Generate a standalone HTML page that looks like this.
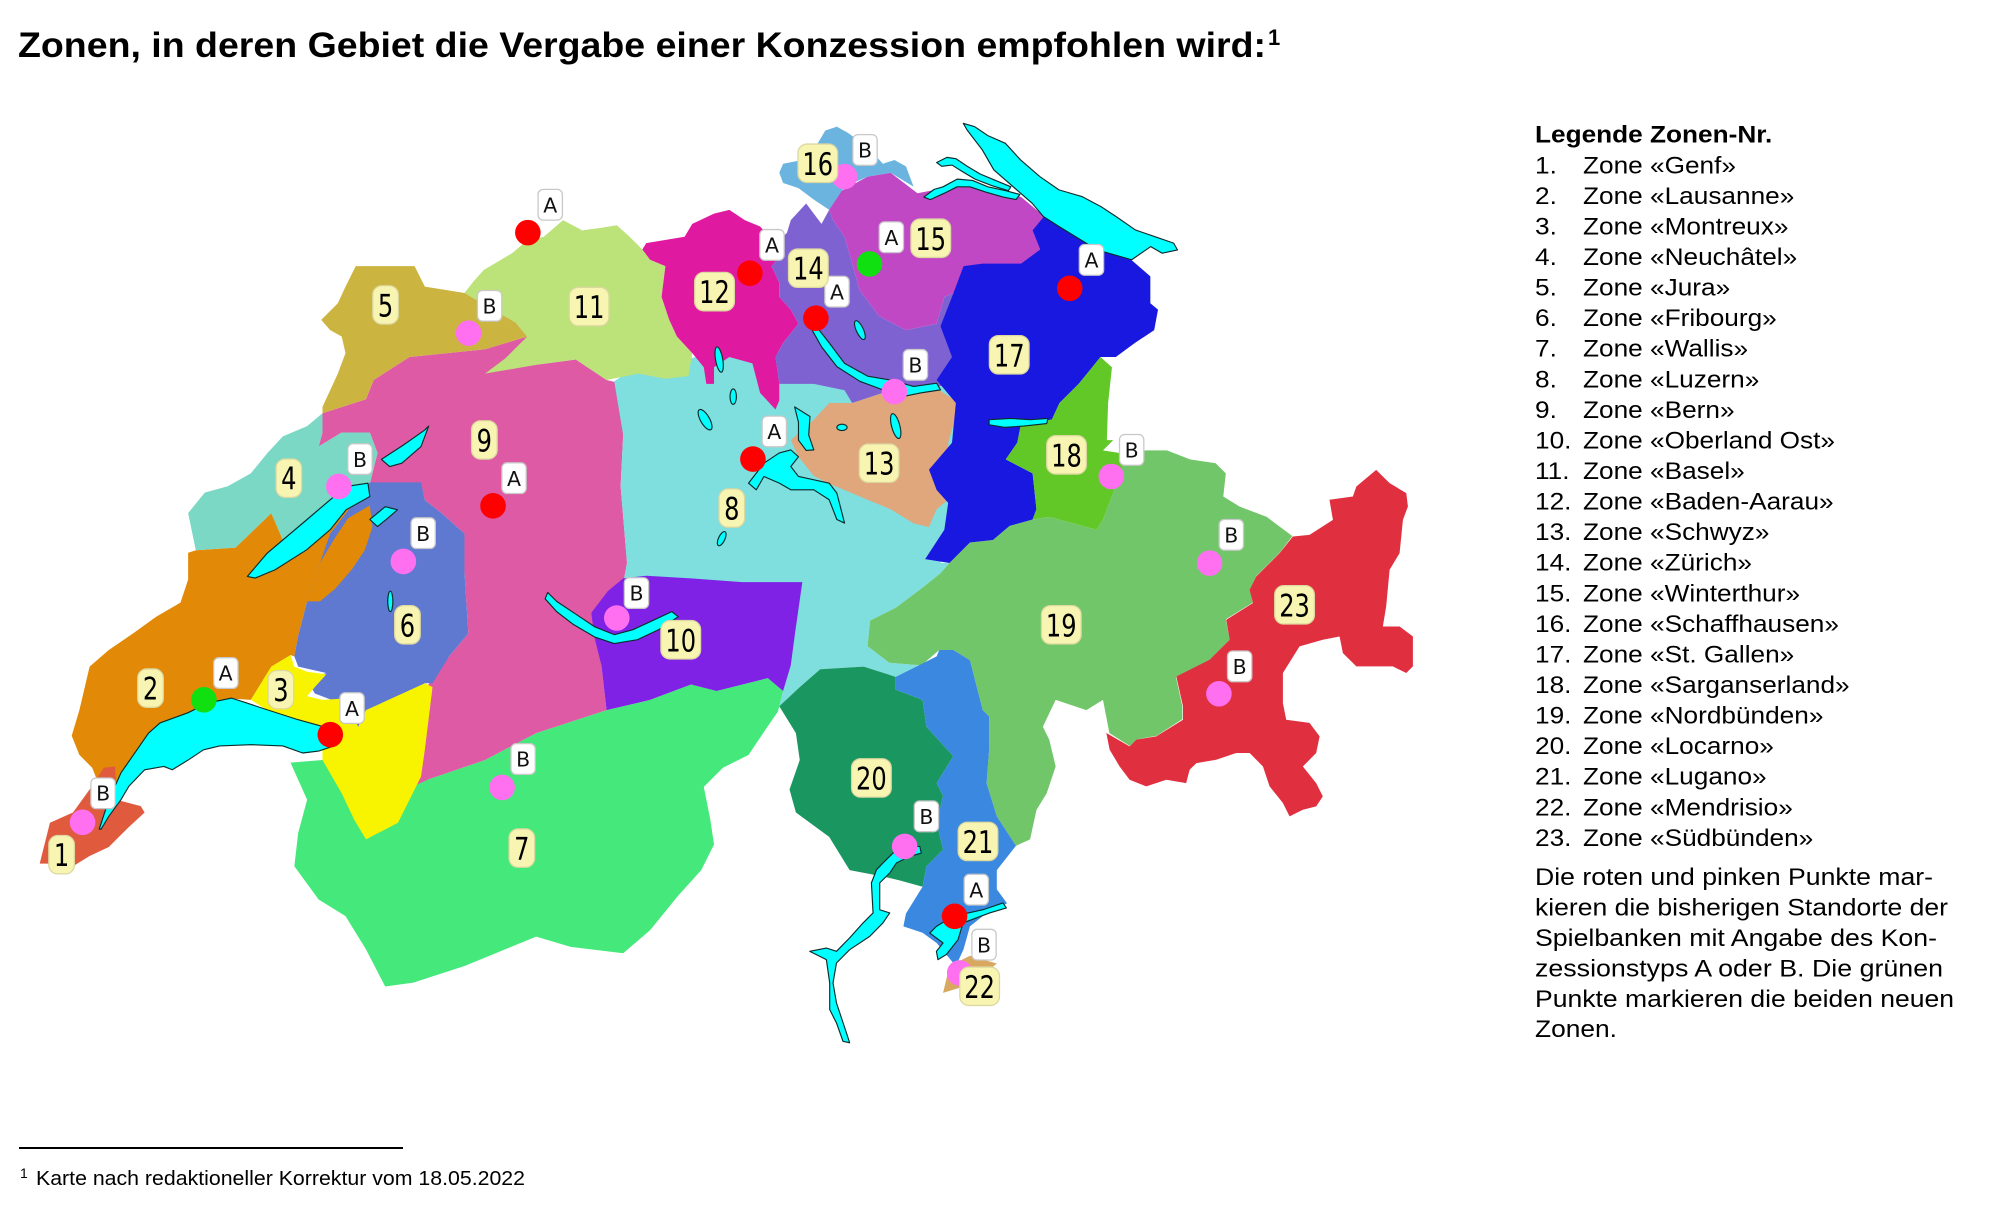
<!DOCTYPE html>
<html><head><meta charset="utf-8"><style>
html,body{margin:0;padding:0;background:#fff;}
body{width:2000px;height:1224px;position:relative;overflow:hidden;}
svg{position:absolute;left:0;top:0;}
</style></head><body>
<svg width="2000" height="1224" viewBox="0 0 1563 956.6" xmlns="http://www.w3.org/2000/svg">
<g stroke="none">
<polygon fill="#45e87b" points="262,583 252,594 227,596 240,625 233,651 230,677 249,703 270,716 286,742 301,771 323,768 363,755 419,732 446,740 487,745 508,727 530,700 548,680 558,660 555,640 550,615 565,600 585,590 595,575 608,556 612,540 600,530 560,540 540,535 508,547 474,555 419,573 379,594 335,609 332,586 300,575"/>
<polygon fill="#df5aa5" points="252,323 286,312 292,297 320,279 379,273 412,263 420,285 450,281 474,297 487,300 487,340 485,380 490,440 487,456 475,465 462,479 470,520 474,555 419,573 379,594 335,609 322,615 326,560 334,536 351,513 366,495 363,448 363,417 345,401 332,391 329,378 289,378 295,354 289,338 267,338 249,349 252,338"/>
<polygon fill="#7fdede" points="480,298 500,285 540,280 570,272 600,272 640,290 700,290 760,290 760,350 750,393 745,414 735,440 742,440 735,448 720,460 700,475 680,485 678,505 695,518 720,520 734,508 716,521 700,529 675,521 641,523 625,537 609,552 612,540 618,520 622,490 625,458 600,458 560,460 530,458 505,455 487,456 490,440 485,380 487,340"/>
<polygon fill="#72c66a" points="742,440 758,424 776,422 789,411 807,406 820,404 857,414 862,406 870,385 878,362 878,354 896,352 912,352 930,359 950,362 958,370 956,388 969,396 990,404 1010,419 1000,432 982,450 977,461 979,471 958,484 961,500 945,516 919,529 924,552 924,562 904,575 888,578 883,583 867,573 862,547 849,555 825,547 815,568 820,578 825,599 818,620 810,633 805,656 794,661 779,638 771,612 773,586 773,560 768,555 758,516 745,508 734,508 720,520 695,518 678,505 680,485 700,475 720,460 735,448"/>
<polygon fill="#e28a07" points="56,575 62,555 70,521 85,508 104,495 122,482 141,471 147,453 147,432 153,430 184,428 212,401 221,422 240,406 258,391 270,380 289,378 291,393 262,420 250,440 240,470 233,497 230,513 227,512 212,521 196,547 181,546 162,550 147,557 125,565 116,573 107,586 94,604 85,625 78,615 72,600 62,590"/>
<polygon fill="#7ad8c4" points="147,401 160,385 178,380 196,370 209,354 221,341 240,333 252,323 252,338 249,349 267,338 289,338 295,354 289,378 270,380 258,391 240,406 221,422 212,401 184,428 153,430"/>
<polygon fill="#cbb440" points="278,208 324,208 332,224 363,229 403,252 412,263 379,273 320,279 292,297 286,312 252,323 252,318 258,305 264,292 270,276 267,263 258,258 251,250 264,237 270,224"/>
<polygon fill="#bce27a" points="378,211 400,198 412,188 425,185 440,172 455,180 470,178 482,176 492,185 502,195 508,203 520,208 517,232 523,250 529,263 541,276 538,294 520,296 499,292 474,297 450,281 420,285 379,292 395,280 412,263 403,252 363,229 370,220"/>
<polygon fill="#5f78d0" points="258,417 289,377 329,377 332,391 345,401 363,417 363,448 366,495 351,513 338,534 332,534 314,544 286,555 280,568 267,550 246,542 240,531 255,526 233,521 230,513 233,497 240,470 250,440"/>
<polygon fill="#e28a07" points="262,420 272,405 289,395 291,412 285,430 275,445 262,460 250,470 240,470 250,440"/>
<polygon fill="#f8f400" points="196,547 212,521 227,512 230,521 240,525 255,527 246,537 240,544 252,547 267,546 280,568 286,555 332,534 338,537 332,586 329,607 320,625 311,643 286,656 277,641 267,620 252,594 252,586 261,583 252,568 233,563 209,555"/>
<polygon fill="#e05a3e" points="31,675 39,643 57,635 70,617 81,600 90,599 91,625 110,630 113,635 101,646 85,662 70,669 57,677 45,675"/>
<polygon fill="#7f22e6" points="462,479 475,462 487,452 505,450 540,452 580,455 627,455 622,490 618,520 612,540 600,530 560,540 540,535 508,547 474,555 470,520 465,500"/>
<polygon fill="#e01aa0" points="502,195 505,190 535,185 541,175 558,167 570,164 582,172 594,177 606,190 609,201 603,208 609,221 609,232 618,242 624,253 612,268 606,279 609,300 609,313 606,320 594,307 588,284 570,279 558,287 558,300 552,300 550,287 541,276 529,263 523,250 517,232 520,208 508,203"/>
<polygon fill="#7f62d2" points="615,182 618,172 630,159 642,175 648,164 651,172 660,185 666,206 672,227 687,247 708,258 732,253 738,232 750,227 753,208 770,230 770,300 729,302 708,302 690,307 672,313 666,315 660,305 636,300 609,300 606,279 612,268 624,253 618,242 609,232 609,221 603,208 609,201 606,190"/>
<polygon fill="#c048c5" points="648,164 654,151 678,138 696,135 717,151 738,147 768,145 798,154 816,169 830,185 830,212 770,212 753,208 750,227 738,232 732,253 708,258 687,247 672,227 666,206 660,185 651,172"/>
<polygon fill="#6cb4e0" points="609,135 612,128 627,125 636,117 645,102 654,99 663,104 678,115 690,128 699,125 708,130 714,146 696,135 678,138 660,146 648,164 636,156 624,147 612,143"/>
<polygon fill="#e0a77c" points="618,344 636,328 648,315 666,315 672,313 690,307 708,302 729,302 750,315 741,346 744,388 732,398 726,412 714,409 696,398 672,388 648,378 636,372 624,357"/>
<polygon fill="#1818e0" points="753,208 768,206 798,206 813,195 807,180 816,169 828,177 857,195 884,203 899,216 899,237 905,242 902,258 887,268 872,279 860,279 852,289 843,300 828,315 822,328 798,331 795,346 786,359 807,370 810,398 807,406 789,411 776,422 758,424 742,440 723,437 738,414 741,393 732,383 726,367 744,346 747,315 732,297 744,279 735,255 744,232"/>
<polygon fill="#62c828" points="860,279 869,287 866,315 865,344 870,344 862,352 875,354 878,362 870,385 862,406 857,414 820,404 807,406 810,398 807,370 786,359 795,346 798,331 822,328 828,315 843,300 852,289"/>
<polygon fill="#1a9660" points="609,552 625,537 641,523 675,521 700,529 700,539 721,547 724,568 745,591 732,612 737,622 732,643 737,664 724,677 721,693 703,688 690,685 664,680 648,654 622,635 617,617 625,594 622,573"/>
<polygon fill="#3a88e0" points="700,529 716,521 732,513 734,508 745,508 758,516 768,555 773,560 773,586 771,612 779,638 794,661 779,680 779,695 787,706 768,716 758,724 753,742 747,755 732,737 721,729 706,724 708,714 716,701 721,693 724,677 737,664 732,643 737,622 732,612 745,591 724,568 721,547 700,539"/>
<polygon fill="#d8a860" points="737,776 742,755 758,747 779,753 765,765 753,771"/>
<polygon fill="#e03040" points="864.6,572.9 882.8,583.3 888,578 903.6,575.5 924.5,562.5 924.5,552 919.3,528.7 945.3,515.6 961,500 958.3,484.4 979.2,471.3 976.6,461 981.8,450.5 1000,432.3 1010.4,419.3 1023.4,418 1041.7,406.3 1039,390.6 1057.3,388 1060,380.2 1075.5,367.2 1086,377.6 1099,385.4 1100.3,395.8 1096.4,406.3 1093.8,432.3 1086,445.3 1083.3,474 1080.7,489.6 1093.8,489.6 1104.2,497.4 1104.2,520.8 1099,526 1088.5,520.8 1060,520.8 1049.5,510.4 1046.9,497.4 1033.8,500 1015.6,505.2 1002.6,526 1002.6,549.5 1005.2,562.5 1023.4,565 1031.3,575.5 1028.6,588.5 1018.2,599 1028.6,612 1033.8,622.4 1028.6,630.2 1018.2,632.8 1007.8,638 1002.6,627.6 992.2,614.6 987,599 976.6,588.5 966.1,588.5 950.5,593.8 935,596.4 929.7,601.6 927,612 911.5,609.4 895.8,614.6 882.8,609.4 875,599 867.2,586"/>
</g>
<g fill="#00ffff" stroke="#0d2b2b" stroke-width="0.9" stroke-linejoin="round">
<polygon points="77.5,648 85,625 94.5,604 107,586 116,573 125,565 147,557 162,549.5 181,545.6 193,549.5 208.7,554.7 233,562.5 252,567.7 261,583 249,587 236.5,588.5 221,583 196,582 171.6,583 159,586 147,594 134.6,601.6 128,599 113,601.6 100.6,614.6 94.5,625 85,638 79,648"/>
<polygon points="193.3,450.5 208.8,432.3 239.6,406.3 258,390.6 270.5,380.2 287.5,377.6 289,388 270.5,398.4 258,414 239.6,429.7 215,445.3 199.4,451.8"/>
<polygon points="298,359 315,348 332,336 335,333 329,349 314,362 304.5,364.6"/>
<polygon points="289,406 301,396 310.6,398.4 303,405 295,411.5"/>
<polygon points="428,463 435,470 450,480 465,490 480,496 495,492 510,485 525,478 530,482 515,492 498,500 480,503 465,498 448,488 435,478 426,468"/>
<polygon points="636,252.6 648,268 660,284 678,294 696,297 714,302 732,299.5 735,304.7 720,307 705,310 690,304.7 672,298 654,286.5 642,271 633,255"/>
<polygon points="585,377.6 597,362 609,354 618,351.6 624,357 618,364.6 624,372.4 648,377.6 654,385.4 660,408.8 654,406 648,390.6 636,382.8 618,382.8 609,377.6 597,372.4 591,382.8"/>
<polygon points="621,318 633,325.5 632,340 636,351.6 630,352 624,344 624,330"/>
<ellipse cx="551" cy="328" rx="3.5" ry="9" transform="rotate(-30 551 328)"/>
<ellipse cx="562" cy="281" rx="2.8" ry="10" transform="rotate(-10 562 281)"/>
<ellipse cx="573" cy="310" rx="2.5" ry="6"/>
<ellipse cx="700" cy="333" rx="3.2" ry="10" transform="rotate(-15 700 333)"/>
<ellipse cx="658" cy="334" rx="4" ry="2.5"/>
<ellipse cx="672" cy="258" rx="2.8" ry="8" transform="rotate(-25 672 258)"/>
<ellipse cx="564" cy="421" rx="2.5" ry="6" transform="rotate(25 564 421)"/>
<ellipse cx="305" cy="470" rx="2" ry="8"/>
<polygon points="773,328 790,327 805,328 819,327 818,331 800,333 785,334 773,332"/>
<polygon points="752.8,96.4 761.7,99 772,106 785.7,112 797.6,125 812.6,138 827.6,148.4 845.5,153.6 860.4,161.5 872.3,169.3 887.3,179.7 902.3,184.9 917.2,190 920.2,195.3 908.3,197.9 899.3,192.7 884.4,203 857.4,195.3 827.6,177 815.5,169.3 806.6,158.8 797.6,151 785.7,140.6 776.7,132.8 767.7,117.2 755.8,101.6"/>
<polygon points="722,154 730,148 737,146 748,140 760,141 772,146 786,149 797,152 794,156 784,154 770,150 758,146 748,146 738,151 727,156"/>
<polygon points="732,127 740,123 747,124 756,130 766,136 778,141 790,146 788,149 775,145 762,140 752,134 744,129 736,130"/>
<polygon points="690,674.5 697.9,666.7 711,661.5 718.8,661.5 720,666.7 711,669.3 700.5,674.5 695.3,682.3 687.5,690 687.5,711 695.3,713.5 690,721.3 679.7,731.8 664,742.2 653.7,752.6 651,768.2 653.7,783.8 661.5,807.3 664,815 658.8,813.8 653.7,799.5 648.4,789 648.4,768.2 645.8,750 635.4,744.8 632.8,743.5 645.8,740.9 653.7,743.5 664,733 674.5,721.3 682.3,713.5 681,690 685,679.7"/>
<polygon points="731.8,724 744.8,716.1 768.2,711 783.8,705.7 786.5,709.6 773.4,713.5 752.6,721.3 748.7,734.4 739.6,746 733,750 731.8,743.5 737,737 726.6,729.2"/>
</g>
<g stroke="none">
<circle cx="64.5" cy="642.7" r="10" fill="#ff70f0"/>
<circle cx="159.3" cy="546.9" r="10" fill="#10e010"/>
<circle cx="258.1" cy="574.2" r="10" fill="#ff0000"/>
<circle cx="264.8" cy="380.2" r="10" fill="#ff70f0"/>
<circle cx="315.2" cy="438.8" r="10" fill="#ff70f0"/>
<circle cx="385.3" cy="395.3" r="10" fill="#ff0000"/>
<circle cx="366.2" cy="260.4" r="10" fill="#ff70f0"/>
<circle cx="412.5" cy="181.8" r="10" fill="#ff0000"/>
<circle cx="392.4" cy="615.4" r="10" fill="#ff70f0"/>
<circle cx="482" cy="483" r="10" fill="#ff70f0"/>
<circle cx="586" cy="213.5" r="10" fill="#ff0000"/>
<circle cx="637.6" cy="248.7" r="10" fill="#ff0000"/>
<circle cx="679.5" cy="206.3" r="10" fill="#10e010"/>
<circle cx="660" cy="138" r="10" fill="#ff70f0"/>
<circle cx="699" cy="306" r="10" fill="#ff70f0"/>
<circle cx="588.4" cy="358.8" r="10" fill="#ff0000"/>
<circle cx="836" cy="225.3" r="10" fill="#ff0000"/>
<circle cx="868.5" cy="372.4" r="10" fill="#ff70f0"/>
<circle cx="945.3" cy="440.1" r="10" fill="#ff70f0"/>
<circle cx="952.6" cy="542.2" r="10" fill="#ff70f0"/>
<circle cx="707" cy="661.5" r="10" fill="#ff70f0"/>
<circle cx="746" cy="716.1" r="10" fill="#ff0000"/>
<circle cx="750" cy="760.4" r="10" fill="#ff70f0"/>
</g>
<g font-family="DejaVu Sans, Liberation Sans, sans-serif" font-size="16" text-anchor="middle" fill="#111">
<g fill="#fff" stroke="#c8c8c8" stroke-width="1">
<rect x="71" y="608" width="19" height="24" rx="4"/>
<rect x="167" y="514" width="19" height="24" rx="4"/>
<rect x="265.6" y="541.4" width="19" height="24" rx="4"/>
<rect x="271.8" y="346.8" width="19" height="24" rx="4"/>
<rect x="321.2" y="404.7" width="19" height="24" rx="4"/>
<rect x="392.2" y="361.7" width="19" height="24" rx="4"/>
<rect x="373.1" y="227" width="19" height="24" rx="4"/>
<rect x="420.5" y="148" width="19" height="24" rx="4"/>
<rect x="399.3" y="581.2" width="19" height="24" rx="4"/>
<rect x="487.9" y="451.5" width="19" height="24" rx="4"/>
<rect x="593.8" y="179.4" width="19" height="24" rx="4"/>
<rect x="644.6" y="215.9" width="19" height="24" rx="4"/>
<rect x="687.1" y="173.4" width="19" height="24" rx="4"/>
<rect x="666.5" y="105.2" width="19" height="24" rx="4"/>
<rect x="705.9" y="273.2" width="19" height="24" rx="4"/>
<rect x="595.6" y="325.2" width="19" height="24" rx="4"/>
<rect x="843.5" y="191.1" width="19" height="24" rx="4"/>
<rect x="874.9" y="339.6" width="19" height="24" rx="4"/>
<rect x="952.8" y="406" width="19" height="24" rx="4"/>
<rect x="959.3" y="508.8" width="19" height="24" rx="4"/>
<rect x="714.5" y="626" width="19" height="24" rx="4"/>
<rect x="753.5" y="683.3" width="19" height="24" rx="4"/>
<rect x="759.5" y="726.3" width="19" height="24" rx="4"/>
</g>
<text x="80.6" y="625.8">B</text>
<text x="176.3" y="532">A</text>
<text x="275.1" y="559.4">A</text>
<text x="281.3" y="364.8">B</text>
<text x="330.7" y="422.7">B</text>
<text x="401.7" y="379.7">A</text>
<text x="382.6" y="245">B</text>
<text x="430" y="166">A</text>
<text x="408.8" y="599.2">B</text>
<text x="497.4" y="469.5">B</text>
<text x="603.3" y="197.4">A</text>
<text x="654.1" y="233.9">A</text>
<text x="696.6" y="191.4">A</text>
<text x="676" y="123.2">B</text>
<text x="715.4" y="291.2">B</text>
<text x="605.1" y="343.2">A</text>
<text x="853" y="209.1">A</text>
<text x="884.4" y="357.6">B</text>
<text x="962.3" y="424">B</text>
<text x="968.8" y="526.8">B</text>
<text x="724" y="644">B</text>
<text x="763" y="701.3">A</text>
<text x="769" y="744.3">B</text>
</g>
<g font-family="DejaVu Sans, Liberation Sans, sans-serif" font-size="24" fill="#000" text-anchor="middle">
<g fill="#f8f5b2" stroke="#dcd8a0" stroke-width="1">
<rect x="38.1" y="653" width="20" height="30" rx="7"/>
<rect x="107.6" y="522.8" width="20" height="30" rx="7"/>
<rect x="209.5" y="524" width="20" height="30" rx="7"/>
<rect x="215.7" y="358.7" width="20" height="30" rx="7"/>
<rect x="291.3" y="223.3" width="20" height="30" rx="7"/>
<rect x="308.4" y="473.3" width="20" height="30" rx="7"/>
<rect x="397.8" y="647.8" width="20" height="30" rx="7"/>
<rect x="561.9" y="382.1" width="20" height="30" rx="7"/>
<rect x="368.5" y="328.8" width="20" height="30" rx="7"/>
<rect x="516.5" y="485" width="31" height="30" rx="7"/>
<rect x="444.9" y="224.6" width="31" height="30" rx="7"/>
<rect x="542.9" y="212.9" width="31" height="30" rx="7"/>
<rect x="671.5" y="347" width="31" height="30" rx="7"/>
<rect x="616.2" y="194.6" width="31" height="30" rx="7"/>
<rect x="711.9" y="171.2" width="31" height="30" rx="7"/>
<rect x="623.6" y="112.6" width="31" height="30" rx="7"/>
<rect x="773.2" y="262.3" width="31" height="30" rx="7"/>
<rect x="818" y="340.5" width="31" height="30" rx="7"/>
<rect x="813.9" y="473.3" width="31" height="30" rx="7"/>
<rect x="665.5" y="593" width="31" height="30" rx="7"/>
<rect x="748.8" y="642.6" width="31" height="30" rx="7"/>
<rect x="750.1" y="755.8" width="31" height="30" rx="7"/>
<rect x="996.2" y="457.7" width="31" height="30" rx="7"/>
</g>
<text x="48.1" y="677" textLength="12" lengthAdjust="spacingAndGlyphs">1</text>
<text x="117.6" y="546.8" textLength="12" lengthAdjust="spacingAndGlyphs">2</text>
<text x="219.5" y="548" textLength="12" lengthAdjust="spacingAndGlyphs">3</text>
<text x="225.7" y="382.7" textLength="12" lengthAdjust="spacingAndGlyphs">4</text>
<text x="301.3" y="247.3" textLength="12" lengthAdjust="spacingAndGlyphs">5</text>
<text x="318.4" y="497.3" textLength="12" lengthAdjust="spacingAndGlyphs">6</text>
<text x="407.8" y="671.8" textLength="12" lengthAdjust="spacingAndGlyphs">7</text>
<text x="571.9" y="406.1" textLength="12" lengthAdjust="spacingAndGlyphs">8</text>
<text x="378.5" y="352.8" textLength="12" lengthAdjust="spacingAndGlyphs">9</text>
<text x="532" y="509" textLength="24" lengthAdjust="spacingAndGlyphs">10</text>
<text x="460.4" y="248.6" textLength="24" lengthAdjust="spacingAndGlyphs">11</text>
<text x="558.4" y="236.9" textLength="24" lengthAdjust="spacingAndGlyphs">12</text>
<text x="687" y="371" textLength="24" lengthAdjust="spacingAndGlyphs">13</text>
<text x="631.7" y="218.6" textLength="24" lengthAdjust="spacingAndGlyphs">14</text>
<text x="727.4" y="195.2" textLength="24" lengthAdjust="spacingAndGlyphs">15</text>
<text x="639.1" y="136.6" textLength="24" lengthAdjust="spacingAndGlyphs">16</text>
<text x="788.7" y="286.3" textLength="24" lengthAdjust="spacingAndGlyphs">17</text>
<text x="833.5" y="364.5" textLength="24" lengthAdjust="spacingAndGlyphs">18</text>
<text x="829.4" y="497.3" textLength="24" lengthAdjust="spacingAndGlyphs">19</text>
<text x="681" y="617" textLength="24" lengthAdjust="spacingAndGlyphs">20</text>
<text x="764.3" y="666.6" textLength="24" lengthAdjust="spacingAndGlyphs">21</text>
<text x="765.6" y="779.8" textLength="24" lengthAdjust="spacingAndGlyphs">22</text>
<text x="1011.7" y="481.7" textLength="24" lengthAdjust="spacingAndGlyphs">23</text>
</g>
</svg>
<svg width="2000" height="1224" viewBox="0 0 2000 1224" xmlns="http://www.w3.org/2000/svg">
<g font-family="Liberation Sans, Arial, sans-serif" fill="#000">
<text x="18" y="57" font-size="35" font-weight="bold" textLength="1248" lengthAdjust="spacingAndGlyphs">Zonen, in deren Gebiet die Vergabe einer Konzession empfohlen wird:</text>
<text x="1268" y="45" font-size="22" font-weight="bold">1</text>
<g transform="translate(1535 0) scale(1.07 1)" font-size="24.5">
<text x="0" y="142.7" font-weight="bold">Legende Zonen-Nr.</text>
<text x="0" y="173.3">1.</text><text x="44.9" y="173.3">Zone «Genf»</text>
<text x="0" y="203.9">2.</text><text x="44.9" y="203.9">Zone «Lausanne»</text>
<text x="0" y="234.4">3.</text><text x="44.9" y="234.4">Zone «Montreux»</text>
<text x="0" y="265">4.</text><text x="44.9" y="265">Zone «Neuchâtel»</text>
<text x="0" y="295.6">5.</text><text x="44.9" y="295.6">Zone «Jura»</text>
<text x="0" y="326.2">6.</text><text x="44.9" y="326.2">Zone «Fribourg»</text>
<text x="0" y="356.7">7.</text><text x="44.9" y="356.7">Zone «Wallis»</text>
<text x="0" y="387.3">8.</text><text x="44.9" y="387.3">Zone «Luzern»</text>
<text x="0" y="417.9">9.</text><text x="44.9" y="417.9">Zone «Bern»</text>
<text x="0" y="448.4">10.</text><text x="44.9" y="448.4">Zone «Oberland Ost»</text>
<text x="0" y="479">11.</text><text x="44.9" y="479">Zone «Basel»</text>
<text x="0" y="509.6">12.</text><text x="44.9" y="509.6">Zone «Baden-Aarau»</text>
<text x="0" y="540.1">13.</text><text x="44.9" y="540.1">Zone «Schwyz»</text>
<text x="0" y="570.7">14.</text><text x="44.9" y="570.7">Zone «Zürich»</text>
<text x="0" y="601.3">15.</text><text x="44.9" y="601.3">Zone «Winterthur»</text>
<text x="0" y="631.9">16.</text><text x="44.9" y="631.9">Zone «Schaffhausen»</text>
<text x="0" y="662.4">17.</text><text x="44.9" y="662.4">Zone «St. Gallen»</text>
<text x="0" y="693">18.</text><text x="44.9" y="693">Zone «Sarganserland»</text>
<text x="0" y="723.6">19.</text><text x="44.9" y="723.6">Zone «Nordbünden»</text>
<text x="0" y="754.1">20.</text><text x="44.9" y="754.1">Zone «Locarno»</text>
<text x="0" y="784.7">21.</text><text x="44.9" y="784.7">Zone «Lugano»</text>
<text x="0" y="815.3">22.</text><text x="44.9" y="815.3">Zone «Mendrisio»</text>
<text x="0" y="845.8">23.</text><text x="44.9" y="845.8">Zone «Südbünden»</text>
</g>
<g font-size="24.5">
<text x="1535" y="885" textLength="398" lengthAdjust="spacingAndGlyphs">Die roten und pinken Punkte mar-</text>
<text x="1535" y="915.5" textLength="413" lengthAdjust="spacingAndGlyphs">kieren die bisherigen Standorte der</text>
<text x="1535" y="946" textLength="402" lengthAdjust="spacingAndGlyphs">Spielbanken mit Angabe des Kon-</text>
<text x="1535" y="976.5" textLength="408" lengthAdjust="spacingAndGlyphs">zessionstyps A oder B. Die grünen</text>
<text x="1535" y="1007" textLength="419" lengthAdjust="spacingAndGlyphs">Punkte markieren die beiden neuen</text>
<text x="1535" y="1037" textLength="82" lengthAdjust="spacingAndGlyphs">Zonen.</text>
</g>
<rect x="19" y="1147" width="384" height="2" fill="#000"/>
<text x="20" y="1178" font-size="14">1</text>
<text x="36" y="1185" font-size="20" textLength="489" lengthAdjust="spacingAndGlyphs">Karte nach redaktioneller Korrektur vom 18.05.2022</text>
</g>
</svg>
</body></html>
